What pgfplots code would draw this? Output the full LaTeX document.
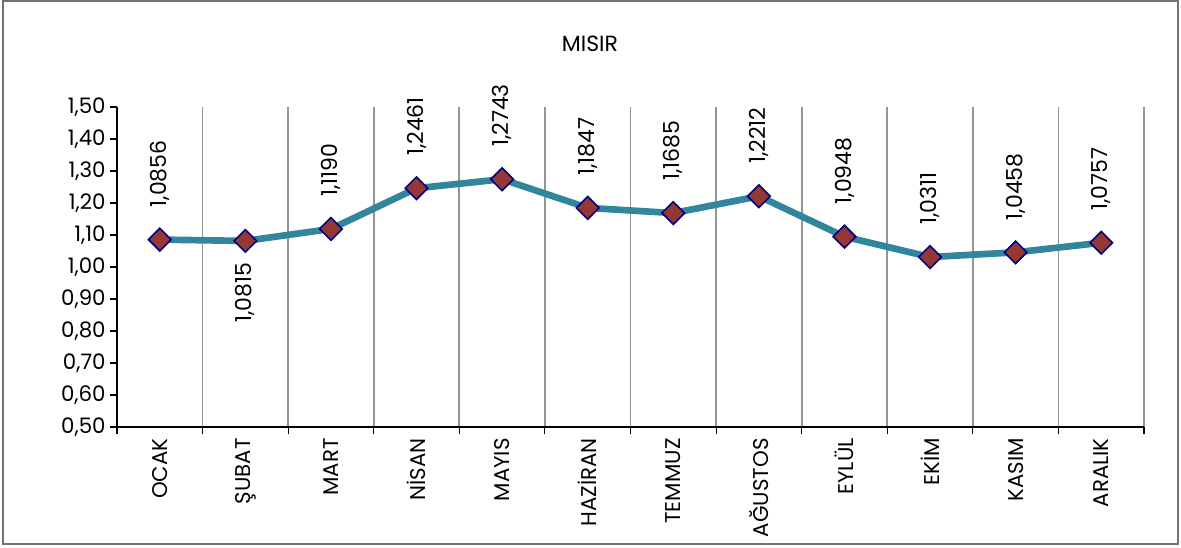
\documentclass[border=0pt]{standalone}
\usepackage{pgfplots}
\pgfplotsset{compat=1.18}
\usepackage{fontspec}
\setmainfont{Poppins}
\definecolor{lineteal}{HTML}{31859C}
\definecolor{mkred}{HTML}{953735}
\definecolor{mkblue}{HTML}{000080}
\begin{document}
\begin{tikzpicture}
% 1 px of the reference = 0.75pt
\path[use as bounding box] (0pt,0pt) rectangle (885.75pt,-411pt);
\draw[color=black!55, line width=1.1pt] (2.25pt,-0.75pt) rectangle (883.5pt,-408pt);
\node[font=\fontsize{16.5}{19}\selectfont] at (442.5pt,-33pt) {MISIR};
\begin{axis}[
  at={(87.75pt,-320.25pt)}, anchor=south west,
  scale only axis, width=770.25pt, height=240pt,
  xmin=-0.5, xmax=11.5, ymin=0.5, ymax=1.5,
  axis x line*=bottom, axis y line*=left,
  axis line style={line width=0.9pt, black},
  xtick={0,...,11},
  xticklabels={OCAK,ŞUBAT,MART,NİSAN,MAYIS,HAZİRAN,TEMMUZ,AĞUSTOS,EYLÜL,EKİM,KASIM,ARALIK},
  minor xtick={-0.5,0.5,1.5,2.5,3.5,4.5,5.5,6.5,7.5,8.5,9.5,10.5,11.5},
  xminorgrids, minor x grid style={color=black!42, line width=1.3pt},
  major x tick style={draw=none},
  minor x tick style={black, line width=0.8pt},
  ytick={0.5,0.6,0.7,0.8,0.9,1.0,1.1,1.2,1.3,1.4,1.5},
  y tick style={black, line width=0.8pt},
  tick align=outside, major tick length=5pt, minor tick length=5pt,
  yticklabel style={/pgf/number format/.cd, use comma, fixed, fixed zerofill, precision=2},
  /pgf/number format/assume math mode=true,
  tick label style={font=\fontsize{16}{18}\selectfont},
  xticklabel style={rotate=90, anchor=east},
  clip=false,
]
\addplot[color=lineteal, line width=5pt, mark=square*,
  mark options={rotate=45, fill=mkred, draw=mkblue, line width=1.2pt}, mark size=6pt]
  coordinates {(0,1.0856) (1,1.0815) (2,1.1190) (3,1.2461) (4,1.2743) (5,1.1847)
               (6,1.1685) (7,1.2212) (8,1.0948) (9,1.0311) (10,1.0458) (11,1.0757)};
\addplot[draw=none, mark=none, nodes near coords, point meta=explicit symbolic,
  nodes near coords style={font=\fontsize{16.5}{19}\selectfont, anchor=west, rotate=90, inner xsep=24pt}]
  coordinates {(0,1.0856) [1,0856] (2,1.1190) [1,1190] (3,1.2461) [1,2461] (4,1.2743) [1,2743]
               (5,1.1847) [1,1847] (6,1.1685) [1,1685] (7,1.2212) [1,2212] (8,1.0948) [1,0948]
               (9,1.0311) [1,0311] (10,1.0458) [1,0458] (11,1.0757) [1,0757]};
\addplot[draw=none, mark=none, nodes near coords, point meta=explicit symbolic,
  nodes near coords style={font=\fontsize{16.5}{19}\selectfont, anchor=east, rotate=90, inner xsep=16pt}]
  coordinates {(1,1.0815) [1,0815]};
\end{axis}
\end{tikzpicture}
\end{document}
